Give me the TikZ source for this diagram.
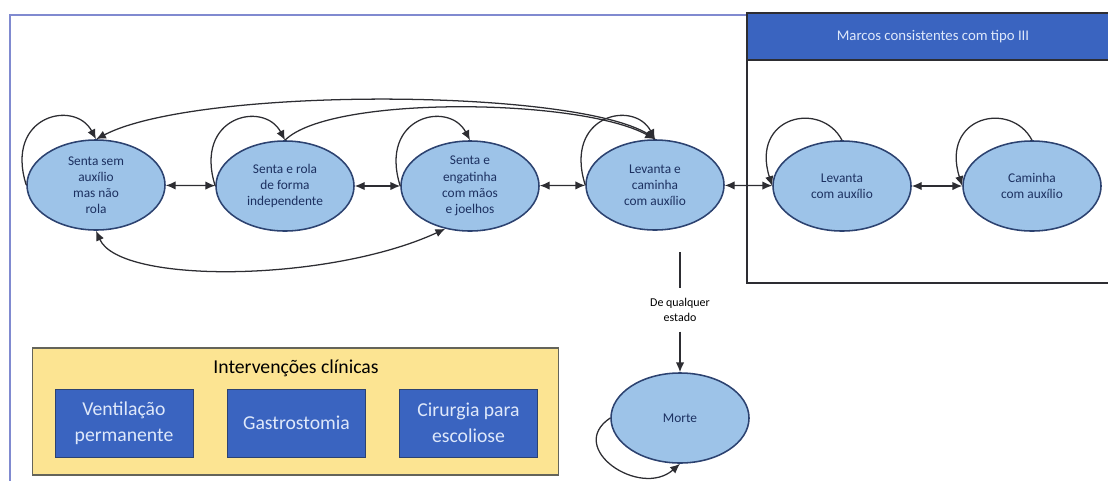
\documentclass[tikz,border=0pt]{standalone}
\usepackage{fontspec}
\setmainfont{Carlito}
\usepackage{tikz}
\usetikzlibrary{arrows.meta,shapes.geometric}
\definecolor{statefill}{RGB}{157,195,232}
\definecolor{stateline}{RGB}{44,66,112}
\definecolor{statetext}{RGB}{28,48,96}
\definecolor{arrowgray}{RGB}{45,45,50}
\definecolor{framecol}{RGB}{128,138,208}
\definecolor{hdrblue}{RGB}{58,100,192}
\definecolor{hdrtext}{RGB}{222,232,250}
\definecolor{clinfill}{RGB}{252,228,146}
\definecolor{clinline}{RGB}{100,100,90}

\begin{document}
\begin{tikzpicture}[x=0.025cm,y=-0.025cm,>={Latex[length=7pt,width=6pt]}]
					\tikzstyle{state}=[ellipse,draw=stateline,line width=1.1pt,fill=statefill,text=statetext,minimum width=3.45cm,minimum height=2.25cm,inner sep=0pt,align=center,font=\fontsize{9.5}{11.5}\selectfont]
					\tikzstyle{edge}=[draw=arrowgray,line width=0.9pt]
					\tikzstyle{treat}=[rectangle,draw=stateline,line width=0.6pt,fill=hdrblue,text=hdrtext,minimum width=3.45cm,minimum height=1.7cm,inner sep=2pt,align=center,font=\fontsize{14}{18.5}\selectfont]
					\useasboundingbox (0,0) rectangle (1108,480);
					\clip (0,0) rectangle (1108,480);
					\draw[framecol,line width=1.8pt] (10,15) rectangle (1140,510);
					% marcos tipo III
					\draw[fill=white,draw=arrowgray,line width=1.2pt] (747,13) rectangle (1140,283);
					\draw[fill=hdrblue,draw=arrowgray,line width=0.8pt] (747,13) rectangle (1140,60);
					\node[text=hdrtext,font=\fontsize{10.5}{12}\selectfont] (hdr) at (933,37) {Marcos consistentes com tipo III};
					% estados
					\node[state] (1) at (96,185) {Senta sem\\auxílio\\mas não\\rola};
					\node[state] (2) at (285,186) {Senta e rola\\de forma\\independente};
					\node[state] (3) at (470,186) {Senta e\\engatinha\\com mãos\\e joelhos};
					\node[state] (4) at (655,185) {Levanta e\\caminha\\com auxílio};
					\node[state] (5) at (842,186) {Levanta\\com auxílio};
					\node[state] (6) at (1032,186) {Caminha\\com auxílio};
					\node[state] (7) at (680,418) {Morte};
					\draw[<->,edge] (1) -- (2);
					\draw[<->,edge] (2) -- (3);
					\draw[<->,edge] (3) -- (4);
					\draw[<->,edge] (4) -- (5);
					\draw[<->,edge] (5) -- (6);
					\draw[->,edge] (1.west) .. controls +(-22,-70) and +(-21,-40) .. (1.north);
					\draw[->,edge] (2.west) .. controls +(-22,-70) and +(-21,-40) .. (2.north);
					\draw[->,edge] (3.west) .. controls +(-22,-70) and +(-21,-40) .. (3.north);
					\draw[->,edge] (4.west) .. controls +(-22,-70) and +(-21,-40) .. (4.north);
					\draw[->,edge] (5.north) .. controls +(-21,-40) and +(-22,-70) .. (5.west);
					\draw[->,edge] (6.north) .. controls +(-21,-40) and +(-22,-70) .. (6.west);
					\draw[->,edge] (7.west) .. controls +(-45,30) and +(-40,35) .. (7.south);
					\draw[->,edge] (4.north) .. controls (600,88) and (200,85) .. (1.north);
					\draw[->,edge] (2.north) .. controls (330,95) and (580,98) .. (4.north);
					\draw[<->,edge] (1.south) .. controls (120,285) and (330,282) .. (3.240);
					% para morte
					\coordinate (top) at (680,252);
					\node[font=\fontsize{8.5}{10.5}\selectfont,align=center,inner sep=7pt] (any) at (680,310) {De qualquer\\estado};
					\draw[edge] (top) -- (any);
					\draw[->,edge] (any) -- (7);
					% intervencoes
					\node[draw=clinline,line width=0.8pt,fill=clinfill,minimum width=13.125cm,minimum height=3.175cm] (clin) at (295.5,411.5) {};
					\node[font=\fontsize{14}{16}\selectfont] (title) at (296,368) {Intervenções clínicas};
					\node[treat] (vent) at (124,423) {Ventilação\\permanente};
					\node[treat] (gast) at (296.5,423) {Gastrostomia};
					\node[treat] (cir) at (468.5,423) {Cirurgia para\\escoliose};
\end{tikzpicture}
\end{document}
